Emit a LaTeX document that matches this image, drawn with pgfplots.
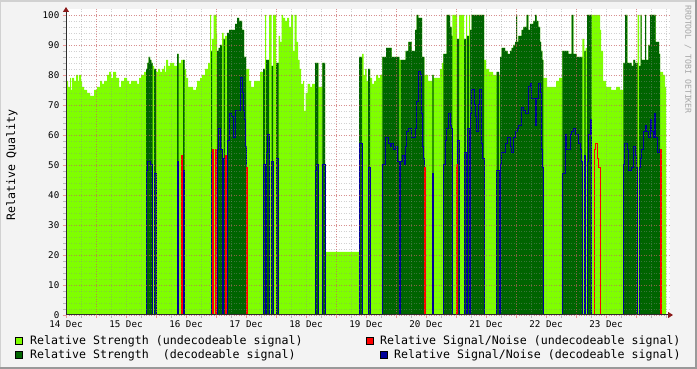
\documentclass[border=0pt]{standalone}
\usepackage{fontspec}
\setmainfont{DejaVu Sans Mono}
\usepackage{pgfplots}
\usepackage{pgfplotstable}
\pgfplotsset{compat=1.18}
\usetikzlibrary{arrows.meta}
\definecolor{bgc}{HTML}{F3F3F3}
\definecolor{lg}{HTML}{7FFF00}
\definecolor{dg}{HTML}{006400}
\definecolor{sb}{HTML}{000099}
\definecolor{sr}{HTML}{FF0000}
\definecolor{mgrid}{HTML}{E05050}
\definecolor{gridc}{HTML}{8C8C8C}
\definecolor{arrowc}{HTML}{8B1A1A}
\definecolor{axisc}{HTML}{2C2C2C}
\newcommand\lfont{\fontsize{11.6pt}{13pt}\selectfont}
\newcommand\tfont{\fontsize{9.2pt}{10pt}\selectfont}
\newcommand\wfont{\fontsize{8.2pt}{9pt}\selectfont}

% t: time in 24-minute steps since 14 Dec 00:00; s: strength; d: strength when decodable;
% b: S/N decodable; r: S/N undecodable
\pgfplotstableread{
t s d b r
0 78 0 0 0
2 76 0 0 0
4 79 0 0 0
5 75 0 0 0
6 79 0 0 0
8 78 0 0 0
10 80 0 0 0
12 78 0 0 0
13 80 0 0 0
15 78 0 0 0
16 76 0 0 0
18 75 0 0 0
21 74 0 0 0
24 73 0 0 0
28 75 0 0 0
31 76 0 0 0
34 78 0 0 0
36 77 0 0 0
38 78 0 0 0
41 80 0 0 0
43 81 0 0 0
45 79 0 0 0
47 81 0 0 0
50 79 0 0 0
53 76 0 0 0
55 78 0 0 0
58 79 0 0 0
61 78 0 0 0
63 77 0 0 0
65 78 0 0 0
69 78 0 0 0
71 77 0 0 0
73 79 0 0 0
75 80 0 0 0
78 81 0 0 0
80 82 82 48 0
81.3 84 84 51 0
82.7 86 86 51 0
84 85 85 50 0
85.3 84 84 50 0
86.7 83 0 0 0
88 82 82 47 0
90 81 0 0 0
92 82 0 0 0
94 81 0 0 0
96 82 0 0 0
98 83 0 0 0
99 81 0 0 0
100 85 0 0 0
102 83 0 0 0
104 84 0 0 0
108 83 0 0 0
111 87 87 51 0
112.5 84 0 0 0
115 85 0 0 53
116 85 0 0 0
117 85 85 48 0
118.5 82 0 0 0
120 79 0 0 0
122 76 0 0 0
127 75 0 0 0
130 76 0 0 0
131 78 0 0 0
134 79 0 0 0
136 80 0 0 0
139 82 0 0 0
142 84 0 0 0
144 100 0 0 0
145 88 88 54 0
146 92 0 0 55
147.5 100 0 0 0
149 100 0 0 55
150.5 94 0 0 0
151 88 88 55 0
152.5 89 89 62 0
154 90 90 55 0
156 94 0 0 0
157.5 92 92 52 0
159 93 0 0 53
160 93 0 0 0
161 94 94 58 0
163 95 95 67 0
165 95 95 66 0
167 95 95 59 0
169 97 97 68 0
171 99 99 68 0
173 98 98 68 0
174.5 98 98 79 0
176 95 95 74 0
177 95 95 68 0
178 86 86 65 0
179 86 86 56 0
180 82 0 0 49
181 82 0 0 0
183 78 0 0 0
185 76 0 0 0
188 78 0 0 0
191 78 0 0 0
194 81 0 0 0
197 82 82 50 0
199 100 0 0 0
200 85 85 54 0
201.5 85 85 60 0
203 100 0 0 0
205.5 83 83 51 0
207 100 0 0 0
210 84 84 52 0
212.5 93 0 0 0
214 91 0 0 0
215.5 100 0 0 0
217 99 0 0 0
219 98 0 0 0
221 99 0 0 0
223 96 0 0 0
225 100 0 0 0
227 88 0 0 0
228.5 100 0 0 0
230.5 91 0 0 0
232 85 0 0 0
233.5 82 0 0 0
235 77 0 0 0
237 78 0 0 0
238 68 0 0 0
239.5 74 0 0 0
241.5 77 0 0 0
244 76 0 0 0
246 77 0 0 0
249 84 84 48 0
250.5 84 84 50 0
252.3 76 0 0 0
256.3 84 84 50 0
259 21 0 0 0
293 86 86 57 0
296 87 0 0 0
297.5 80 0 0 0
299 82 0 0 0
300.5 78 0 0 0
302 82 82 49 0
304 79 0 0 0
306 77 0 0 0
308 78 0 0 0
310 80 0 0 0
312 79 0 0 0
314 80 0 0 0
316.3 86 86 50 0
319 86 86 59 0
320 89 89 59 0
322.3 89 89 57 0
324 89 89 56 0
325.7 86 86 57 0
327.3 86 86 55 0
329.7 86 86 56 0
331.7 86 86 51 0
333.3 85 0 0 0
334.7 85 85 51 0
336.3 85 85 53 0
338.3 85 85 50 0
339.7 88 88 56 0
340.7 88 88 61 0
342.3 91 91 62 0
345.7 88 88 59 0
349 95 95 62 0
350.7 100 100 71 0
352.3 99 99 81 0
354 99 99 80 0
355 99 99 67 0
356 86 86 56 0
357.5 86 86 52 0
358.3 80 0 0 49
359.5 80 0 0 0
362 78 0 0 0
366.3 80 80 47 0
367.7 79 0 0 0
371 79 0 0 0
374 82 0 0 0
376 84 0 0 0
377.3 87 87 50 0
379 87 87 58 0
380.7 100 100 62 0
382.3 100 100 67 0
384 96 96 63 0
385.5 93 93 62 0
386.3 100 0 0 0
390 100 0 0 50
391 92 92 58 0
393 100 0 0 0
398 92 92 54 0
400 100 0 0 0
401 93 93 62 0
403 100 0 0 0
404 95 95 67 0
405.5 100 100 75 0
408 100 100 70 0
409.5 100 100 66 0
410.7 100 100 61 0
412 100 100 70 0
413.5 100 100 75 0
415 100 100 69 0
415.7 100 100 57 0
416.5 100 100 52 0
418 85 0 0 0
420 82 0 0 0
423 81 0 0 0
427 80 0 0 0
430.7 81 81 48 0
433 80 0 0 0
434 86 86 50 0
435.7 89 89 54 0
439 88 88 57 0
441.7 87 87 59 0
444 88 88 56 0
445.7 89 89 54 0
447.3 90 90 59 0
449 91 91 61 0
450 100 100 61 0
451 91 91 62 0
452.3 93 93 63 0
455.7 95 95 69 0
457.3 96 96 68 0
459 96 96 67 0
460.7 100 100 67 0
462.3 95 95 76 0
464 97 97 77 0
465.7 97 97 72 0
467.3 98 98 72 0
469 100 100 63 0
470.7 98 98 72 0
472.3 96 96 77 0
474 91 91 74 0
475 88 88 55 0
476.3 85 85 49 0
477.3 79 0 0 0
481 76 0 0 0
486 76 0 0 0
490 78 0 0 0
493 79 0 0 0
496.3 88 88 47 0
499 88 88 60 0
500.7 88 88 55 0
502.3 87 87 55 0
504 87 87 60 0
505.7 100 100 61 0
507.3 87 87 62 0
509 87 87 60 0
510.7 86 86 60 0
512.3 86 86 57 0
514 86 86 55 0
515.7 86 86 51 0
516.3 92 0 0 0
518.3 88 88 53 0
519.7 89 0 0 0
521 100 100 51 0
522.3 100 100 60 0
524 100 100 65 0
525.7 100 0 0 0
528 100 0 0 55
529.5 100 0 0 57
531 100 0 0 52
532.5 100 0 0 49
534 95 0 0 0
535 88 0 0 0
537 78 0 0 0
540 76 0 0 0
545 75 0 0 0
550 76 0 0 0
554 75 0 0 0
557.3 84 84 50 0
558.3 84 84 57 0
559 100 100 57 0
561.3 84 84 55 0
562.3 84 84 48 0
565.7 83 83 49 0
567.3 85 85 56 0
569 84 84 53 0
570.7 84 84 49 0
571.7 100 0 0 0
573 83 83 49 0
574.5 100 100 52 0
575.7 85 85 55 0
577.3 85 85 61 0
579 100 100 63 0
580 85 85 63 0
580.7 85 85 61 0
582.3 90 90 59 0
584 100 100 65 0
585.7 100 100 61 0
587.3 100 100 59 0
588.3 100 100 67 0
589.7 91 91 59 0
591.7 91 91 54 0
593 87 87 55 0
594 81 0 0 55
595 81 0 0 0
597 80 0 0 0
599 76 0 0 0
600 76 0 0 0
}\data

\begin{document}
\begin{tikzpicture}
\fill[bgc] (0,0) rectangle (697pt,369pt);
\useasboundingbox (0,0) rectangle (697pt,369pt);
\fill[black!18] (0,367pt) rectangle (697pt,369pt);
\fill[black!18] (0,0) rectangle (1pt,369pt);
\fill[black!40] (0,0) rectangle (697pt,2pt);
\fill[black!40] (695pt,0) rectangle (697pt,369pt);
\begin{axis}[
  at={(66pt,54pt)}, anchor=south west,
  scale only axis, width=604pt, height=306pt,
  xmin=0, xmax=241.6, ymin=0, ymax=102,
  axis x line=bottom, axis y line=left,
  axis line style={draw=axisc, line width=1pt},
  x axis line style={-{Triangle[length=5pt,width=6pt,color=arrowc]}, shorten >=-3pt},
  y axis line style={-{Triangle[length=5pt,width=6pt,color=arrowc]}, shorten >=-2pt},
  axis background/.style={fill=white},
  axis on top,
  /pgf/number format/assume math mode=true,
  xtick={0,24,...,216},
  xticklabels={14 Dec,15 Dec,16 Dec,17 Dec,18 Dec,19 Dec,20 Dec,21 Dec,22 Dec,23 Dec},
  minor xtick={0,6,...,240},
  extra x ticks={12,36,...,228},
  extra x tick labels={},
  extra x tick style={grid=major},
  xmajorgrids=false,
  ytick={0,10,...,100},
  minor ytick={0,2,...,100},
  ymajorgrids=true,
  xminorgrids=true, yminorgrids=true,
  major grid style={draw=mgrid, opacity=0.5, line width=0.7pt, dash pattern=on 1pt off 1.5pt},
  minor grid style={draw=gridc, opacity=0.4, line width=0.7pt, dash pattern=on 1pt off 1.5pt},
  tick align=outside,
  major tick length=3pt, minor tick length=3pt,
  major tick style={draw=mgrid!60, line width=0.8pt},
  minor tick style={draw=gridc!60, line width=0.8pt},
  xticklabel style={font=\tfont, inner sep=0pt, yshift=-2.5pt},
  yticklabel style={font=\tfont, inner sep=0pt, xshift=-3.5pt},
]
\addplot[const plot, fill=lg, draw=none] table[x expr=\thisrow{t}*0.4, y=s]{\data} \closedcycle;
\addplot[const plot, fill=dg, draw=none] table[x expr=\thisrow{t}*0.4, y=d]{\data} \closedcycle;
\addplot[const plot, draw=sb, line width=1pt] table[x expr=\thisrow{t}*0.4, y=b]{\data};
\addplot[const plot, draw=sr, line width=1pt] table[x expr=\thisrow{t}*0.4, y=r]{\data};
\end{axis}
\node[rotate=90, font=\lfont] at (12pt,204pt) {Relative Quality};
\node[rotate=-90, anchor=west, font=\wfont, text=black!35, inner sep=0pt] at (688pt,364pt) {RRDTOOL / TOBI OETIKER};
% legend
\filldraw[fill=lg, draw=black, line width=0.8pt] (15.5pt,24.5pt) rectangle (22.5pt,31.5pt);
\node[anchor=base west, font=\lfont, inner sep=0pt] at (30pt,24pt) {Relative Strength (undecodeable signal)};
\filldraw[fill=dg, draw=black, line width=0.8pt] (15.5pt,10.5pt) rectangle (22.5pt,17.5pt);
\node[anchor=base west, font=\lfont, inner sep=0pt] at (30pt,10pt) {Relative Strength\ \ (decodeable signal)};
\filldraw[fill=sr, draw=black, line width=0.8pt] (366.5pt,24.5pt) rectangle (373.5pt,31.5pt);
\node[anchor=base west, font=\lfont, inner sep=0pt] at (380pt,24pt) {Relative Signal/Noise (undecodeable signal)};
\filldraw[fill=sb, draw=black, line width=0.8pt] (380.5pt,10.5pt) rectangle (387.5pt,17.5pt);
\node[anchor=base west, font=\lfont, inner sep=0pt] at (394pt,10pt) {Relative Signal/Noise (decodeable signal)};
\end{tikzpicture}
\end{document}
